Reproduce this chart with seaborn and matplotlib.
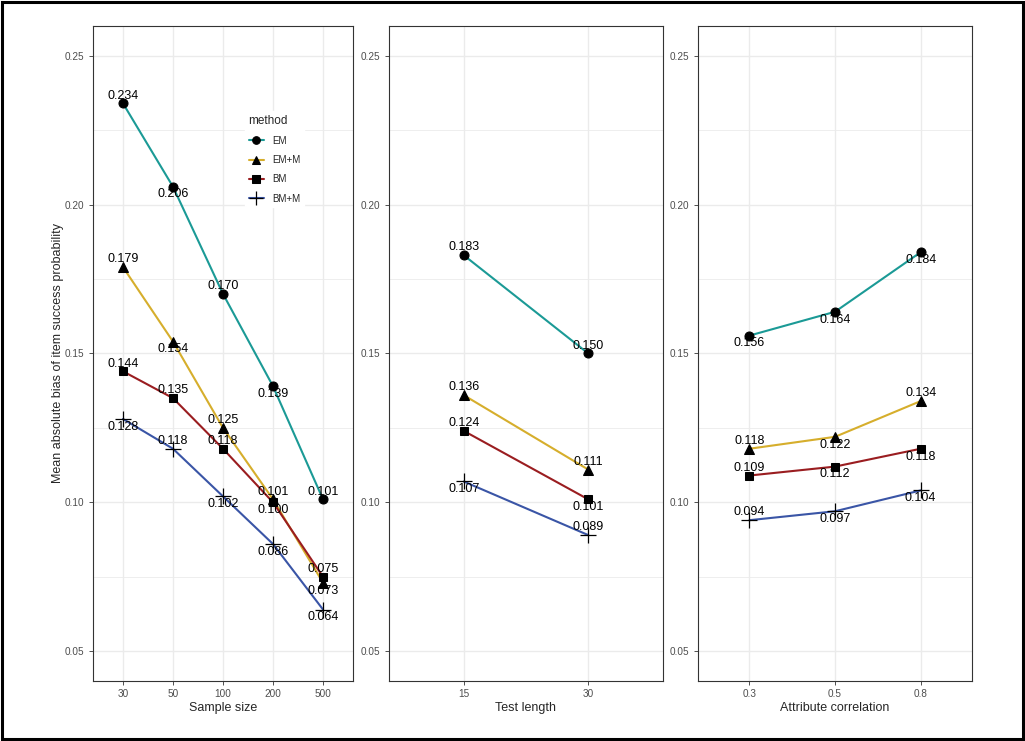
import matplotlib
matplotlib.use("Agg")
import matplotlib.pyplot as plt
from matplotlib.lines import Line2D
from matplotlib.patches import Rectangle
import pandas as pd
import seaborn as sns

# data
methods = ["EM", "EM+M", "BM", "BM+M"]

sample_size = ["30", "50", "100", "200", "500"]
em_n = [0.234, 0.206, 0.170, 0.139, 0.101]
emm_n = [0.179, 0.154, 0.125, 0.101, 0.073]
bm_n = [0.144, 0.135, 0.118, 0.100, 0.075]
bmm_n = [0.128, 0.118, 0.102, 0.086, 0.064]

test_length = ["15", "30"]
em_t = [0.183, 0.150]
emm_t = [0.136, 0.111]
bm_t = [0.124, 0.101]
bmm_t = [0.107, 0.089]

attr_corr = ["0.3", "0.5", "0.8"]
em_c = [0.156, 0.164, 0.184]
emm_c = [0.118, 0.122, 0.134]
bm_c = [0.109, 0.112, 0.118]
bmm_c = [0.094, 0.097, 0.104]

# label placement: 1 = above point, -1 = below
dir_n = [[1, -1, 1, -1, 1], [1, -1, 1, 1, -1], [1, 1, 1, -1, 1], [-1, 1, -1, -1, -1]]
dir_t = [[1, 1], [1, 1], [1, -1], [-1, 1]]
dir_c = [[-1, -1, -1], [1, -1, 1], [1, -1, -1], [1, -1, -1]]

palette = {"EM": "#1B9A96", "EM+M": "#D6AE2C", "BM": "#9A1D20", "BM+M": "#3A55A6"}
markers = {"EM": "o", "EM+M": "^", "BM": "s", "BM+M": "+"}
msize = {"EM": 6.5, "EM+M": 6.5, "BM": 6, "BM+M": 11}
mew = {"EM": 0.75, "EM+M": 0.75, "BM": 0.75, "BM+M": 0.9}


def make_long(cats, series):
    rows = []
    for m, vals in zip(methods, series):
        for i, (c, v) in enumerate(zip(cats, vals)):
            rows.append({"method": m, "level": c, "pos": i, "value": v})
    return pd.DataFrame(rows)


panels = [
    ("Sample size", sample_size, [em_n, emm_n, bm_n, bmm_n], dir_n),
    ("Test length", test_length, [em_t, emm_t, bm_t, bmm_t], dir_t),
    ("Attribute correlation", attr_corr, [em_c, emm_c, bm_c, bmm_c], dir_c),
]

sns.set_style("white")
plt.rcParams["font.family"] = ["Liberation Sans", "DejaVu Sans"]

fig = plt.figure(figsize=(10.25, 7.41), dpi=100)
boxes = [(0.0907, 0.2537), (0.3795, 0.2673), (0.6810, 0.2673)]
bottom, top = 0.081, 0.965

for k, (xlabel, cats, series, dirs) in enumerate(panels):
    left, width = boxes[k]
    ax = fig.add_axes([left, bottom, width, top - bottom])
    df = make_long(cats, series)

    for m in methods:
        sub = df[df["method"] == m]
        sns.lineplot(data=sub, x="pos", y="value", color=palette[m], marker=markers[m],
                     sort=False, legend=False, linewidth=1.5, markersize=msize[m],
                     markerfacecolor="black", markeredgecolor="black",
                     markeredgewidth=mew[m], ax=ax)

    for m, vals, d in zip(methods, series, dirs):
        for i, (v, s) in enumerate(zip(vals, d)):
            ax.annotate(f"{v:.3f}", (i, v), xytext=(0, 5.6 * s), textcoords="offset points",
                        ha="center", va="center", fontsize=9, color="black")

    ax.set_xlim(-0.6, len(cats) - 1 + 0.6)
    ax.set_ylim(0.04, 0.26)
    ax.set_xticks(range(len(cats)))
    ax.set_xticklabels(cats)
    ax.set_yticks([0.05, 0.10, 0.15, 0.20, 0.25])
    ax.set_yticklabels(["0.05", "0.10", "0.15", "0.20", "0.25"])
    ax.set_yticks([0.075, 0.125, 0.175, 0.225], minor=True)
    ax.grid(which="major", color="#EBEBEB", linewidth=1.0)
    ax.grid(which="minor", axis="y", color="#EBEBEB", linewidth=0.6)
    ax.set_axisbelow(True)
    ax.tick_params(axis="both", which="major", length=3, width=0.6, color="#333333",
                   labelsize=7.2, labelcolor="#4D4D4D", pad=3, direction="out",
                   bottom=True, left=True)
    ax.tick_params(which="minor", length=0)
    for sp in ax.spines.values():
        sp.set_color("#333333")
        sp.set_linewidth(0.8)
    ax.set_xlabel(xlabel, fontsize=9, labelpad=2)
    if k == 0:
        ax.set_ylabel("Mean absolute bias of item success probability", fontsize=9, labelpad=0.5)
        handles = [Line2D([], [], color=palette[m], marker=markers[m], markerfacecolor="black",
                          markeredgecolor="black", linewidth=1.5,
                          markersize=9.5 if markers[m] == "+" else 5.5,
                          markeredgewidth=mew[m])
                   for m in methods]
        leg = ax.legend(handles, methods, title="method", loc="upper left",
                        bbox_to_anchor=(0.565, 0.878), frameon=True, fontsize=7,
                        title_fontsize=8.5, handlelength=1.6, labelspacing=0.95,
                        borderpad=0.4, alignment="left")
        leg.get_frame().set_facecolor("white")
        leg.get_frame().set_edgecolor("white")
        leg.get_frame().set_alpha(1)
    else:
        ax.set_ylabel("")

fig.patches.append(Rectangle((0.002, 0.003), 0.996, 0.994, transform=fig.transFigure,
                             fill=False, edgecolor="black", linewidth=2.2))

fig.savefig("out.png", dpi=100)
